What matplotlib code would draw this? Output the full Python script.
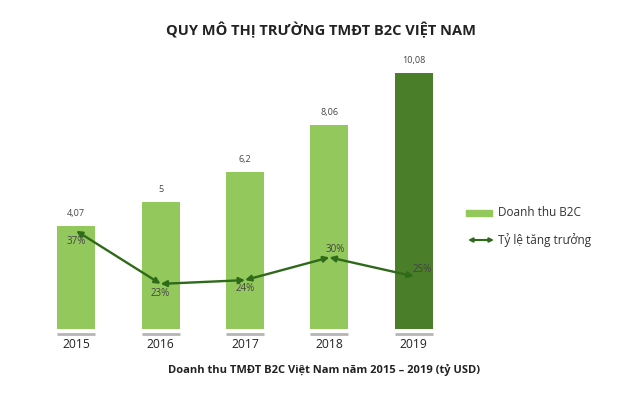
import matplotlib.pyplot as plt
from matplotlib.patches import Rectangle, FancyArrowPatch

plt.rcParams['font.family'] = ['Open Sans', 'DejaVu Sans']

# data
years = ['2015', '2016', '2017', '2018', '2019']
revenue = [4.07, 5, 6.2, 8.06, 10.08]
revenue_labels = ['4,07', '5', '6,2', '8,06', '10,08']
growth = [37, 23, 24, 30, 25]
growth_labels = ['37%', '23%', '24%', '30%', '25%']

light = '#93c95c'
dark = '#4a7e29'
arrow_col = '#2f6a1b'

W, H = 630, 409
fig = plt.figure(figsize=(W / 100, H / 100), dpi=100)
fig.patch.set_facecolor('white')

# axes placed in pixel terms: x 34..456, y 50..329 (from top)
ax = fig.add_axes([34 / W, (H - 329) / H, (456 - 34) / W, (329 - 50) / H])
x = list(range(len(years)))
colors = [light] * 4 + [dark]
ax.bar(x, revenue, width=0.45, color=colors, zorder=2)
ax.set_xlim(-0.5, 4.5)
ax.set_ylim(0, 11)
ax.axis('off')

for i, (v, lab) in enumerate(zip(revenue, revenue_labels)):
    ax.annotate(lab, (i, v), xytext=(0, 9), textcoords='offset points',
                ha='center', va='center', fontsize=6.5, color='#444444')
    # gray base line under each bar
    ax.plot([i - 0.225, i + 0.225], [-0.2, -0.2], color='#b5b5b5', lw=2,
            clip_on=False, solid_capstyle='butt')
    ax.text(i, -0.62, years[i], ha='center', va='center', fontsize=8.7,
            color='#222222')

# growth rate on a second axis
ax2 = ax.twinx()
ax2.set_ylim(11.1, 84.7)
ax2.axis('off')
for i in range(len(growth) - 1):
    ax2.annotate('', xy=(i + 1, growth[i + 1]), xytext=(i, growth[i]),
                 arrowprops=dict(arrowstyle='<|-|>', color=arrow_col, lw=1.7,
                                 mutation_scale=8.5, shrinkA=0, shrinkB=0),
                 zorder=3)

offsets = [(0, -8), (0, -7), (0, -6), (4, 6), (6, 5)]
for i, (g, off) in enumerate(zip(growth_labels, offsets)):
    ax2.annotate(g, (i, growth[i]), xytext=off, textcoords='offset points',
                 ha='center', va='center', fontsize=7, color='#444444')

# legend
fig.patches.append(Rectangle((466 / W, (H - 216) / H), 26 / W, 6 / H,
                             transform=fig.transFigure, color=light))
fig.text(498 / W, (H - 213) / H, 'Doanh thu B2C', fontsize=8.5,
         color='#333333', va='center')
fig.add_artist(FancyArrowPatch(
    (468 / W, (H - 240) / H), (494 / W, (H - 240) / H),
    transform=fig.transFigure, arrowstyle='<|-|>', color=arrow_col, lw=1.5,
    mutation_scale=6, shrinkA=0, shrinkB=0))
fig.text(498 / W, (H - 240) / H, 'Tỷ lệ tăng trưởng', fontsize=8.5,
         color='#333333', va='center')

fig.text(321 / W, (H - 30) / H, 'QUY MÔ THỊ TRƯỜNG TMĐT B2C VIỆT NAM',
         fontsize=10.5, fontweight='bold', color='#222222',
         ha='center', va='center')
fig.text(324 / W, (H - 370) / H,
         'Doanh thu TMĐT B2C Việt Nam năm 2015 – 2019 (tỷ USD)',
         fontsize=8, fontweight='bold', color='#222222',
         ha='center', va='center')

fig.savefig('out.png', dpi=100)
